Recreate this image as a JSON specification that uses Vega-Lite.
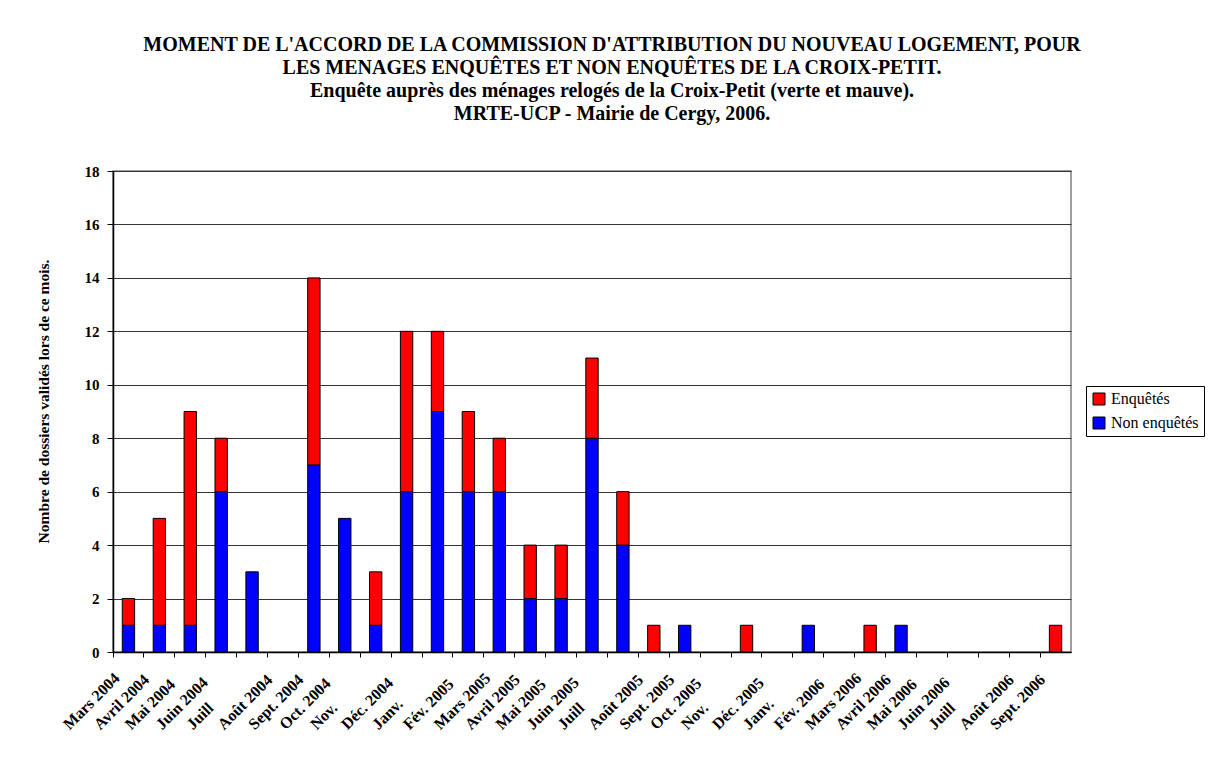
{
  "$schema": "https://vega.github.io/schema/vega-lite/v6.json",
  "width": 958,
  "height": 481,
  "autosize": "none",
  "padding": {"left": 113, "top": 171, "right": 143, "bottom": 105},
  "background": "white",
  "config": {
    "font": "Liberation Serif",
    "view": {"stroke": "#808080", "strokeWidth": 1.5}
  },
  "title": {
    "text": [
      "MOMENT DE L'ACCORD DE LA COMMISSION D'ATTRIBUTION DU NOUVEAU LOGEMENT, POUR",
      "LES MENAGES ENQUÊTES ET NON ENQUÊTES DE LA CROIX-PETIT.",
      "Enquête auprès des ménages relogés de la Croix-Petit (verte et mauve).",
      "MRTE-UCP - Mairie de Cergy, 2006."
    ],
    "font": "Liberation Serif",
    "fontSize": 20,
    "fontWeight": "bold",
    "lineHeight": 23,
    "anchor": "middle",
    "frame": "group",
    "dx": 20,
    "offset": 40,
    "color": "black"
  },
  "data": {
    "values": [
      {"mois": "2004-03", "type": "Non enquêtés", "n": 1},
      {"mois": "2004-03", "type": "Enquêtés", "n": 1},
      {"mois": "2004-04", "type": "Non enquêtés", "n": 1},
      {"mois": "2004-04", "type": "Enquêtés", "n": 4},
      {"mois": "2004-05", "type": "Non enquêtés", "n": 1},
      {"mois": "2004-05", "type": "Enquêtés", "n": 8},
      {"mois": "2004-06", "type": "Non enquêtés", "n": 6},
      {"mois": "2004-06", "type": "Enquêtés", "n": 2},
      {"mois": "2004-07", "type": "Non enquêtés", "n": 3},
      {"mois": "2004-09", "type": "Non enquêtés", "n": 7},
      {"mois": "2004-09", "type": "Enquêtés", "n": 7},
      {"mois": "2004-10", "type": "Non enquêtés", "n": 5},
      {"mois": "2004-11", "type": "Non enquêtés", "n": 1},
      {"mois": "2004-11", "type": "Enquêtés", "n": 2},
      {"mois": "2004-12", "type": "Non enquêtés", "n": 6},
      {"mois": "2004-12", "type": "Enquêtés", "n": 6},
      {"mois": "2005-01", "type": "Non enquêtés", "n": 9},
      {"mois": "2005-01", "type": "Enquêtés", "n": 3},
      {"mois": "2005-02", "type": "Non enquêtés", "n": 6},
      {"mois": "2005-02", "type": "Enquêtés", "n": 3},
      {"mois": "2005-03", "type": "Non enquêtés", "n": 6},
      {"mois": "2005-03", "type": "Enquêtés", "n": 2},
      {"mois": "2005-04", "type": "Non enquêtés", "n": 2},
      {"mois": "2005-04", "type": "Enquêtés", "n": 2},
      {"mois": "2005-05", "type": "Non enquêtés", "n": 2},
      {"mois": "2005-05", "type": "Enquêtés", "n": 2},
      {"mois": "2005-06", "type": "Non enquêtés", "n": 8},
      {"mois": "2005-06", "type": "Enquêtés", "n": 3},
      {"mois": "2005-07", "type": "Non enquêtés", "n": 4},
      {"mois": "2005-07", "type": "Enquêtés", "n": 2},
      {"mois": "2005-08", "type": "Enquêtés", "n": 1},
      {"mois": "2005-09", "type": "Non enquêtés", "n": 1},
      {"mois": "2005-11", "type": "Enquêtés", "n": 1},
      {"mois": "2006-01", "type": "Non enquêtés", "n": 1},
      {"mois": "2006-03", "type": "Enquêtés", "n": 1},
      {"mois": "2006-04", "type": "Non enquêtés", "n": 1},
      {"mois": "2006-09", "type": "Enquêtés", "n": 1}
    ]
  },
  "mark": {"type": "bar", "stroke": "black", "strokeWidth": 1, "width": {"band": 0.4}},
  "encoding": {
    "x": {
      "field": "mois",
      "type": "nominal",
      "scale": {
        "domain": ["2004-03","2004-04","2004-05","2004-06","2004-07","2004-08","2004-09","2004-10","2004-11","2004-12",
                   "2005-01","2005-02","2005-03","2005-04","2005-05","2005-06","2005-07","2005-08","2005-09","2005-10","2005-11","2005-12",
                   "2006-01","2006-02","2006-03","2006-04","2006-05","2006-06","2006-07","2006-08","2006-09"],
        "paddingInner": 0,
        "paddingOuter": 0
      },
      "axis": {
        "title": null,
        "labelExpr": "{'2004-03':'Mars 2004','2004-04':'Avril 2004','2004-05':'Mai 2004','2004-06':'Juin 2004','2004-07':'Juill','2004-08':'Août 2004','2004-09':'Sept. 2004','2004-10':'Oct. 2004','2004-11':'Nov.','2004-12':'Déc. 2004','2005-01':'Janv.','2005-02':'Fév. 2005','2005-03':'Mars 2005','2005-04':'Avril 2005','2005-05':'Mai 2005','2005-06':'Juin 2005','2005-07':'Juill','2005-08':'Août 2005','2005-09':'Sept. 2005','2005-10':'Oct. 2005','2005-11':'Nov.','2005-12':'Déc. 2005','2006-01':'Janv.','2006-02':'Fév. 2006','2006-03':'Mars 2006','2006-04':'Avril 2006','2006-05':'Mai 2006','2006-06':'Juin 2006','2006-07':'Juill','2006-08':'Août 2006','2006-09':'Sept. 2006'}[datum.value]",
        "labelAngle": -45,
        "labelAlign": "left",
        "labelBaseline": "alphabetic",
        "labelFont": "Liberation Serif",
        "labelFontSize": 16,
        "labelFontWeight": "bold",
        "labelColor": "black",
        "labelPadding": 73,
        "labelOffset": -59,
        "labelOverlap": false,
        "labelBound": false,
        "labelFlush": false,
        "bandPosition": 0,
        "tickSize": 5,
        "tickColor": "black",
        "domainColor": "black",
        "domainWidth": 1.5,
        "grid": false
      }
    },
    "y": {
      "field": "n",
      "type": "quantitative",
      "aggregate": "sum",
      "stack": "zero",
      "scale": {"domain": [0, 18], "nice": false},
      "axis": {
        "title": "Nombre de dossiers validés lors de ce mois.",
        "titleFont": "Liberation Serif",
        "titleFontSize": 15.5,
        "titleFontWeight": "bold",
        "titleColor": "black",
        "titleAngle": -90,
        "titleAlign": "center",
        "titleBaseline": "alphabetic",
        "titleX": -65,
        "titleY": 230,
        "values": [0, 2, 4, 6, 8, 10, 12, 14, 16, 18],
        "labelFont": "Liberation Serif",
        "labelFontSize": 15,
        "labelFontWeight": "bold",
        "labelColor": "black",
        "labelPadding": 8,
        "tickSize": 6,
        "tickColor": "black",
        "domainColor": "black",
        "domainWidth": 1.5,
        "grid": true,
        "gridColor": "#333333",
        "gridWidth": 1
      }
    },
    "color": {
      "field": "type",
      "type": "nominal",
      "scale": {"domain": ["Enquêtés", "Non enquêtés"], "range": ["#FF0000", "#0000FF"]},
      "legend": {
        "title": null,
        "orient": "none",
        "legendX": 973,
        "legendY": 215,
        "strokeColor": "black",
        "fillColor": "white",
        "padding": 5,
        "symbolType": "square",
        "symbolSize": 144,
        "symbolStrokeColor": "black",
        "symbolStrokeWidth": 1,
        "labelFont": "Liberation Serif",
        "labelFontSize": 16,
        "labelColor": "black",
        "labelOffset": 4,
        "rowPadding": 8
      }
    },
    "order": {"field": "type", "sort": "descending"}
  }
}
